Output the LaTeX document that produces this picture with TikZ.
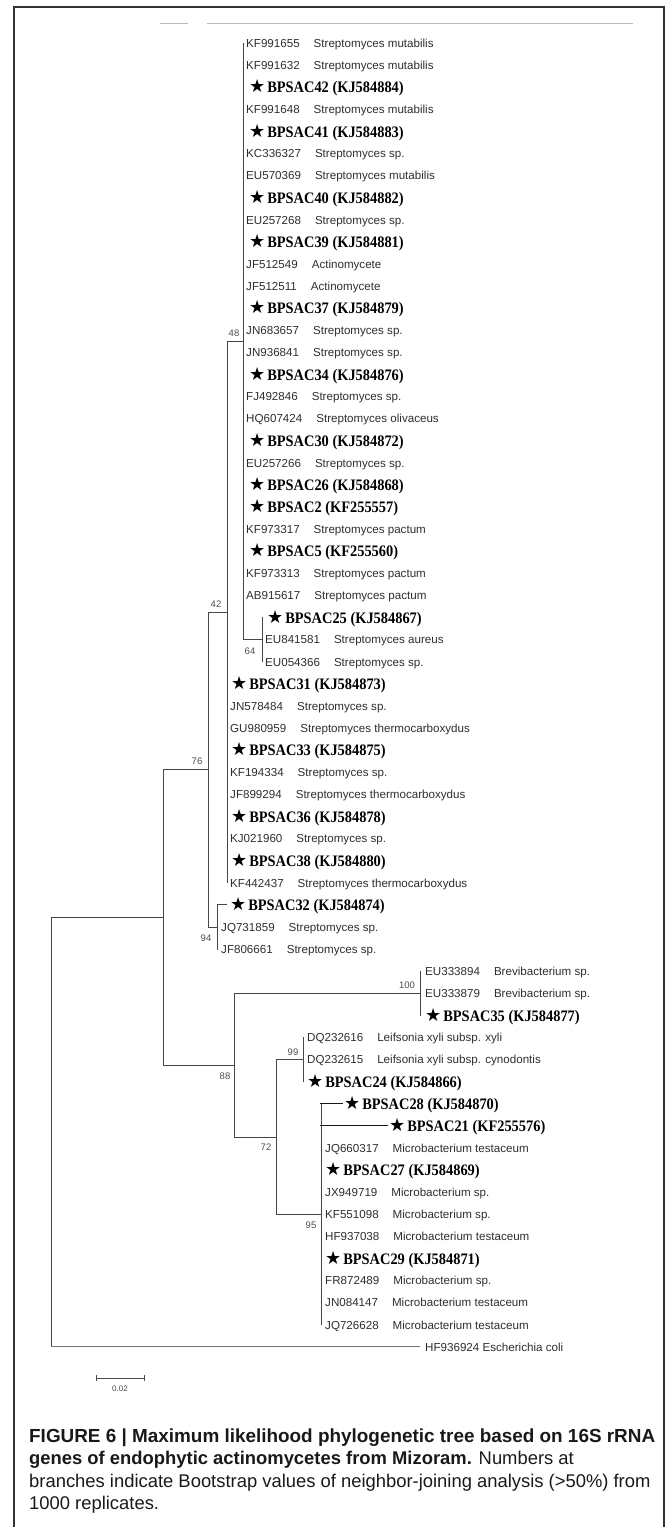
\documentclass[tikz,border=0pt]{standalone}
\usepackage{fontspec}
\setmainfont{Liberation Sans}
\newfontfamily\serifb[FakeStretch=0.9]{Liberation Serif}
\newfontfamily\starf{DejaVu Sans}
\newcommand\rowy[1]{43+22.1*#1}
\newcommand\plainleaf[4]{\node[lf] (L#1) at (#2,{\rowy{#1}}) {#3\hspace{14pt}#4};}
\newcommand\starleaf[3]{\node[bs] (L#1) at (#2,{\rowy{#1}}) {{\fontsize{18}{18}\starf ★}\hspace{2pt}#3};}
\begin{document}
\begin{tikzpicture}[x=1pt,y=-1pt,
  br/.style={draw=black!72, line width=0.9pt, line cap=rect},
  lf/.style={anchor=base west, inner sep=0pt, font=\fontsize{11.6}{12}\selectfont, text=black!82, yshift=-4.2pt},
  bs/.style={anchor=base west, inner sep=0pt, font=\serifb\bfseries\fontsize{16}{16}\selectfont, yshift=-5.6pt},
  bv/.style={inner sep=0pt, font=\fontsize{9.5}{10}\selectfont, text=black!70},
  captxt/.style={anchor=base west, inner sep=0pt, font=\fontsize{18.4}{21}\selectfont, text=black!90}]
\useasboundingbox (0,0) rectangle (672,1527);
% frame
\draw[black!80, line width=1.2pt] (14,1527) -- (14,7) -- (664,7) -- (664,1527);
% top grey rules
\draw[gray!55, line width=1pt] (160,23) -- (188,23);
\draw[gray!55, line width=1pt] (207,23) -- (633,23);

% ---------- leaves ----------
\plainleaf{0}{246}{KF991655}{Streptomyces mutabilis}
\plainleaf{1}{246}{KF991632}{Streptomyces mutabilis}
\starleaf{2}{249}{BPSAC42 (KJ584884)}
\plainleaf{3}{246}{KF991648}{Streptomyces mutabilis}
\starleaf{4}{249}{BPSAC41 (KJ584883)}
\plainleaf{5}{246}{KC336327}{Streptomyces sp.}
\plainleaf{6}{246}{EU570369}{Streptomyces mutabilis}
\starleaf{7}{249}{BPSAC40 (KJ584882)}
\plainleaf{8}{246}{EU257268}{Streptomyces sp.}
\starleaf{9}{249}{BPSAC39 (KJ584881)}
\plainleaf{10}{246}{JF512549}{Actinomycete}
\plainleaf{11}{246}{JF512511}{Actinomycete}
\starleaf{12}{249}{BPSAC37 (KJ584879)}
\plainleaf{13}{246}{JN683657}{Streptomyces sp.}
\plainleaf{14}{246}{JN936841}{Streptomyces sp.}
\starleaf{15}{249}{BPSAC34 (KJ584876)}
\plainleaf{16}{246}{FJ492846}{Streptomyces sp.}
\plainleaf{17}{246}{HQ607424}{Streptomyces olivaceus}
\starleaf{18}{249}{BPSAC30 (KJ584872)}
\plainleaf{19}{246}{EU257266}{Streptomyces sp.}
\starleaf{20}{249}{BPSAC26 (KJ584868)}
\starleaf{21}{249}{BPSAC2 (KF255557)}
\plainleaf{22}{246}{KF973317}{Streptomyces pactum}
\starleaf{23}{249}{BPSAC5 (KF255560)}
\plainleaf{24}{246}{KF973313}{Streptomyces pactum}
\plainleaf{25}{246}{AB915617}{Streptomyces pactum}
\starleaf{26}{267}{BPSAC25 (KJ584867)}
\plainleaf{27}{265}{EU841581}{Streptomyces aureus}
\plainleaf{28}{265}{EU054366}{Streptomyces sp.}
\starleaf{29}{231}{BPSAC31 (KJ584873)}
\plainleaf{30}{230}{JN578484}{Streptomyces sp.}
\plainleaf{31}{230}{GU980959}{Streptomyces thermocarboxydus}
\starleaf{32}{231}{BPSAC33 (KJ584875)}
\plainleaf{33}{230}{KF194334}{Streptomyces sp.}
\plainleaf{34}{230}{JF899294}{Streptomyces thermocarboxydus}
\starleaf{35}{231}{BPSAC36 (KJ584878)}
\plainleaf{36}{230}{KJ021960}{Streptomyces sp.}
\starleaf{37}{231}{BPSAC38 (KJ584880)}
\plainleaf{38}{230}{KF442437}{Streptomyces thermocarboxydus}
\starleaf{39}{230}{BPSAC32 (KJ584874)}
\plainleaf{40}{221}{JQ731859}{Streptomyces sp.}
\plainleaf{41}{221}{JF806661}{Streptomyces sp.}
\plainleaf{42}{425}{EU333894}{Brevibacterium sp.}
\plainleaf{43}{425}{EU333879}{Brevibacterium sp.}
\starleaf{44}{425}{BPSAC35 (KJ584877)}
\plainleaf{45}{307}{DQ232616}{Leifsonia xyli subsp. xyli}
\plainleaf{46}{307}{DQ232615}{Leifsonia xyli subsp. cynodontis}
\starleaf{47}{307}{BPSAC24 (KJ584866)}
\starleaf{48}{344}{BPSAC28 (KJ584870)}
\starleaf{49}{389}{BPSAC21 (KF255576)}
\plainleaf{50}{325}{JQ660317}{Microbacterium testaceum}
\starleaf{51}{325}{BPSAC27 (KJ584869)}
\plainleaf{52}{325}{JX949719}{Microbacterium sp.}
\plainleaf{53}{325}{KF551098}{Microbacterium sp.}
\plainleaf{54}{325}{HF937038}{Microbacterium testaceum}
\starleaf{55}{325}{BPSAC29 (KJ584871)}
\plainleaf{56}{325}{FR872489}{Microbacterium sp.}
\plainleaf{57}{325}{JN084147}{Microbacterium testaceum}
\plainleaf{58}{325}{JQ726628}{Microbacterium testaceum}
\node[lf] (L59) at (425,{\rowy{59}}) {HF936924 Escherichia coli};

% ---------- internal nodes ----------
\coordinate (n48) at (243,341.5);
\coordinate (n64) at (262,639.7);
\coordinate (n42) at (227,612.2);
\coordinate (n94) at (217,927.0);
\coordinate (n76) at (208,769.6);
\coordinate (nA)  at (163,917.4);
\coordinate (n88) at (234,1065.1);
\coordinate (n100) at (420,993.3);
\coordinate (n72) at (276,1137.0);
\coordinate (n99) at (303,1059.6);
\coordinate (n95) at (321,1214.3);
\coordinate (root) at (51,1132);
\coordinate (ecl) at (420,{\rowy{59}});

% verticals
\draw[br] (243,{\rowy{0}}) -- (243,639.7);
\draw[br] (262,{\rowy{26}}) -- (262,{\rowy{28}});
\draw[br] (227,341.5) -- (227,{\rowy{38}});
\draw[br] (217,{\rowy{39}}) -- (217,{\rowy{41}});
\draw[br] (208,612.2) -- (208,927.0);
\draw[br] (163,769.6) -- (163,1065.1);
\draw[br] (51,917.4) -- (51,{\rowy{59}});
\draw[br] (234,993.3) -- (234,1137.0);
\draw[br] (420,{\rowy{42}}) -- (420,{\rowy{44}});
\draw[br] (276,1059.6) -- (276,1214.3);
\draw[br] (303,{\rowy{45}}) -- (303,{\rowy{47}});
\draw[br] (321,{\rowy{48}}) -- (321,{\rowy{58}});

% horizontals (parent -> child)
\draw[br] (n42 |- n48) -- (n48);
\draw[br] (n48 |- n64) -- (n64);
\draw[br] (n76 |- n42) -- (n42);
\draw[br] (n76 |- n94) -- (n94);
\draw[br] (nA |- n76) -- (n76);
\draw[br] (nA |- n88) -- (n88);
\draw[br] (root |- nA) -- (nA);
\draw[br] (n88 |- n100) -- (n100);
\draw[br] (n88 |- n72) -- (n72);
\draw[br] (n72 |- n99) -- (n99);
\draw[br] (n72 |- n95) -- (n95);
\draw[br, draw=black!55] (root |- ecl) -- (ecl);
\draw[br] (217,{\rowy{39}}) -- (227,{\rowy{39}});
\draw[br, draw=black!90, line width=1.1pt] (321,{\rowy{48}}) -- (342,{\rowy{48}});
\draw[br, draw=black!90, line width=1.1pt] (321,{\rowy{49}}) -- (387,{\rowy{49}});

% bootstrap values
\node[bv] at (234,333) {48};
\node[bv] at (250,651) {64};
\node[bv] at (216,604) {42};
\node[bv] at (197,761) {76};
\node[bv] at (206,938) {94};
\node[bv] at (407,985) {100};
\node[bv] at (225,1076) {88};
\node[bv] at (293,1052) {99};
\node[bv] at (266,1147) {72};
\node[bv] at (311,1225) {95};

% scale bar
\draw[black!70, line width=0.8pt] (96,1378) -- (144,1378);
\draw[black!70, line width=0.8pt] (96,1375) -- (96,1381);
\draw[black!70, line width=0.8pt] (144,1375) -- (144,1381);
\node[bv, font=\fontsize{8}{8}\selectfont] at (120,1389) {0.02};

% caption
\node[captxt, font=\fontsize{18.9}{21}\selectfont\bfseries] at (29,1442) {FIGURE 6 | Maximum likelihood phylogenetic tree based on 16S rRNA};
\node[captxt] at (29,1464.5) {\textbf{genes of endophytic actinomycetes from Mizoram.} Numbers at};
\node[captxt] at (29,1487) {branches indicate Bootstrap values of neighbor-joining analysis (>50\%) from};
\node[captxt] at (29,1509.5) {1000 replicates.};
\end{tikzpicture}
\end{document}
